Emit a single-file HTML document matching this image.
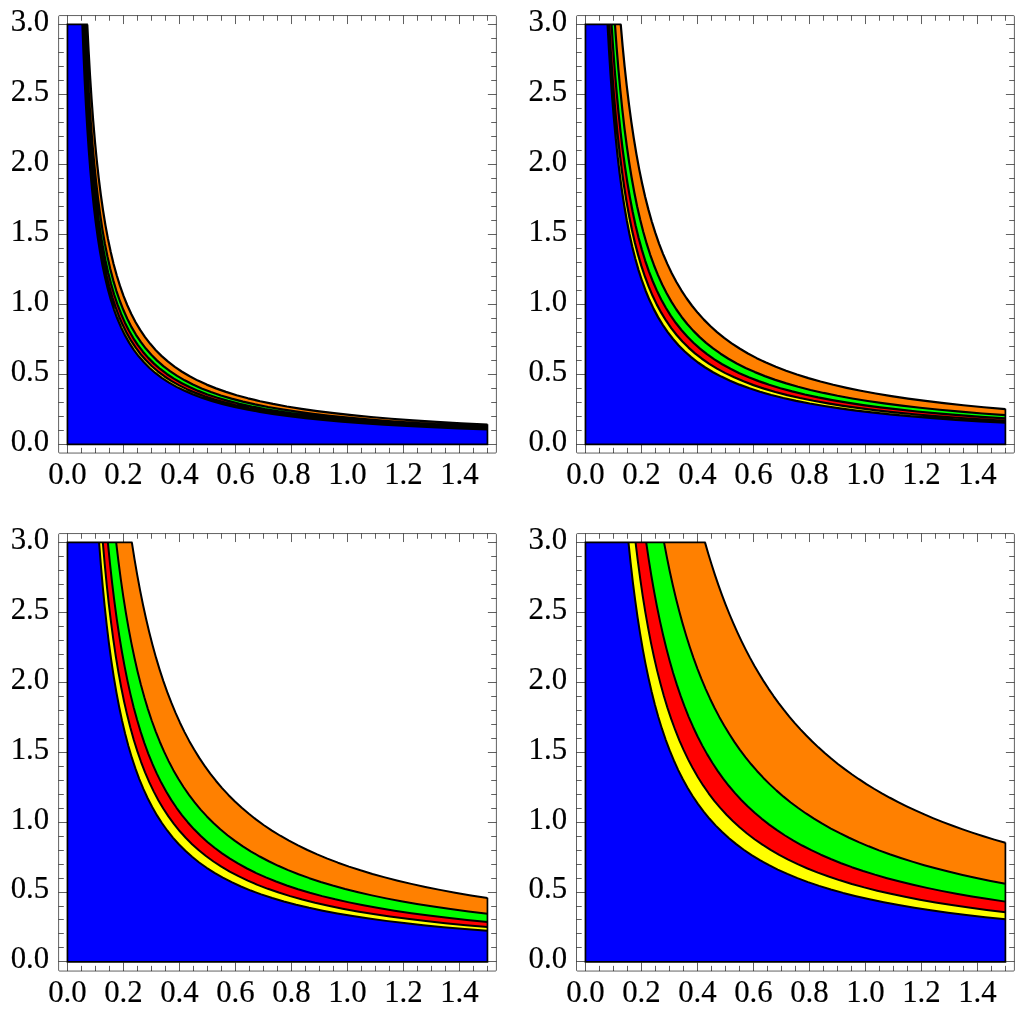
<!DOCTYPE html>
<html><head><meta charset="utf-8"><title>plots</title>
<style>html,body{margin:0;padding:0;background:#fff}svg{display:block}text{font-family:"Liberation Serif",serif;font-size:30.8px;fill:#000;stroke:#000;stroke-width:0.18}</style></head>
<body>
<svg width="1024" height="1013" viewBox="0 0 1024 1013">
<rect width="1024" height="1013" fill="#fff"/>
<g>
<path d="M67.45 444.45 L67.45 24.45 L87.28 24.45 L88.61 50.86 L90.03 75.62 L91.55 98.81 L93.17 120.55 L94.89 140.92 L96.74 160.01 L98.7 177.9 L100.8 194.66 L103.04 210.37 L105.42 225.09 L107.97 238.89 L110.69 251.82 L113.59 263.93 L116.69 275.28 L120 285.92 L123.52 295.89 L127.29 305.24 L131.3 313.99 L135.59 322.2 L140.16 329.88 L145.04 337.09 L150.25 343.84 L155.8 350.17 L161.73 356.1 L168.06 361.65 L174.81 366.86 L182.02 371.74 L189.7 376.31 L197.91 380.6 L206.66 384.61 L216.01 388.38 L225.98 391.9 L236.62 395.21 L247.97 398.31 L260.08 401.21 L273.01 403.93 L286.81 406.48 L301.53 408.86 L317.24 411.1 L334 413.2 L351.89 415.16 L370.98 417.01 L391.35 418.73 L413.09 420.35 L436.28 421.87 L461.04 423.29 L487.45 424.62 L487.45 444.45Z" fill="#ff8000"/>
<path d="M67.45 444.45 L67.45 24.45 L85.35 24.45 L86.59 51.72 L87.92 77.22 L89.35 101.07 L90.87 123.36 L92.49 144.21 L94.23 163.71 L96.09 181.94 L98.08 198.98 L100.21 214.92 L102.48 229.82 L104.91 243.76 L107.52 256.79 L110.3 268.98 L113.27 280.37 L116.45 291.02 L119.86 300.99 L123.5 310.3 L127.39 319.01 L131.55 327.16 L136 334.77 L140.76 341.89 L145.85 348.55 L151.3 354.78 L157.12 360.6 L163.35 366.05 L170.01 371.14 L177.13 375.9 L184.74 380.35 L192.89 384.51 L201.6 388.4 L210.91 392.04 L220.88 395.45 L231.53 398.63 L242.92 401.6 L255.11 404.38 L268.14 406.99 L282.08 409.42 L296.98 411.69 L312.92 413.82 L329.96 415.81 L348.19 417.67 L367.69 419.41 L388.54 421.03 L410.83 422.55 L434.68 423.98 L460.18 425.31 L487.45 426.55 L487.45 444.45Z" fill="#00ff00"/>
<path d="M67.45 444.45 L67.45 24.45 L84.12 24.45 L85.3 52.32 L86.57 78.33 L87.93 102.63 L89.39 125.31 L90.95 146.48 L92.62 166.25 L94.4 184.71 L96.32 201.94 L98.37 218.03 L100.57 233.06 L102.92 247.08 L105.44 260.18 L108.14 272.4 L111.03 283.82 L114.13 294.48 L117.45 304.43 L121 313.72 L124.81 322.39 L128.88 330.49 L133.25 338.05 L137.93 345.11 L142.93 351.7 L148.3 357.86 L154.04 363.6 L160.2 368.97 L166.79 373.97 L173.85 378.65 L181.41 383.02 L189.51 387.09 L198.18 390.9 L207.47 394.45 L217.42 397.77 L228.08 400.87 L239.5 403.76 L251.72 406.46 L264.82 408.98 L278.84 411.33 L293.87 413.53 L309.96 415.58 L327.19 417.5 L345.65 419.28 L365.42 420.95 L386.59 422.51 L409.27 423.97 L433.57 425.33 L459.58 426.6 L487.45 427.78 L487.45 444.45Z" fill="#ff0000"/>
<path d="M67.45 444.45 L67.45 24.45 L83.17 24.45 L84.31 52.81 L85.53 79.25 L86.83 103.91 L88.24 126.9 L89.74 148.34 L91.36 168.33 L93.09 186.97 L94.94 204.36 L96.94 220.57 L99.07 235.68 L101.36 249.78 L103.82 262.92 L106.45 275.18 L109.27 286.61 L112.3 297.26 L115.55 307.2 L119.03 316.47 L122.76 325.11 L126.77 333.17 L131.06 340.68 L135.67 347.69 L140.61 354.22 L145.91 360.31 L151.59 365.99 L157.68 371.29 L164.21 376.23 L171.22 380.84 L178.73 385.13 L186.79 389.14 L195.43 392.87 L204.7 396.35 L214.64 399.6 L225.29 402.63 L236.72 405.45 L248.98 408.08 L262.12 410.54 L276.22 412.83 L291.33 414.96 L307.54 416.96 L324.93 418.81 L343.57 420.54 L363.56 422.16 L385 423.66 L407.99 425.07 L432.65 426.37 L459.09 427.59 L487.45 428.73 L487.45 444.45Z" fill="#ffff00"/>
<path d="M67.45 444.45 L67.45 24.45 L82.4 24.45 L83.5 53.22 L84.68 80.02 L85.95 104.99 L87.31 128.25 L88.77 149.91 L90.34 170.09 L92.02 188.88 L93.83 206.39 L95.77 222.7 L97.85 237.89 L100.09 252.04 L102.49 265.22 L105.07 277.5 L107.83 288.94 L110.8 299.59 L113.99 309.51 L117.41 318.76 L121.09 327.37 L125.03 335.39 L129.27 342.86 L133.81 349.82 L138.69 356.3 L143.93 362.34 L149.56 367.97 L155.6 373.21 L162.08 378.09 L169.04 382.63 L176.51 386.87 L184.53 390.81 L193.14 394.49 L202.39 397.91 L212.31 401.1 L222.96 404.07 L234.4 406.83 L246.68 409.41 L259.86 411.81 L274.01 414.05 L289.2 416.13 L305.51 418.07 L323.02 419.88 L341.81 421.56 L361.99 423.13 L383.65 424.59 L406.91 425.95 L431.88 427.22 L458.68 428.4 L487.45 429.5 L487.45 444.45Z" fill="#0000ff"/>
<path d="M87.28 24.45 L88.61 50.86 L90.03 75.62 L91.55 98.81 L93.17 120.55 L94.89 140.92 L96.74 160.01 L98.7 177.9 L100.8 194.66 L103.04 210.37 L105.42 225.09 L107.97 238.89 L110.69 251.82 L113.59 263.93 L116.69 275.28 L120 285.92 L123.52 295.89 L127.29 305.24 L131.3 313.99 L135.59 322.2 L140.16 329.88 L145.04 337.09 L150.25 343.84 L155.8 350.17 L161.73 356.1 L168.06 361.65 L174.81 366.86 L182.02 371.74 L189.7 376.31 L197.91 380.6 L206.66 384.61 L216.01 388.38 L225.98 391.9 L236.62 395.21 L247.97 398.31 L260.08 401.21 L273.01 403.93 L286.81 406.48 L301.53 408.86 L317.24 411.1 L334 413.2 L351.89 415.16 L370.98 417.01 L391.35 418.73 L413.09 420.35 L436.28 421.87 L461.04 423.29 L487.45 424.62M85.35 24.45 L86.59 51.72 L87.92 77.22 L89.35 101.07 L90.87 123.36 L92.49 144.21 L94.23 163.71 L96.09 181.94 L98.08 198.98 L100.21 214.92 L102.48 229.82 L104.91 243.76 L107.52 256.79 L110.3 268.98 L113.27 280.37 L116.45 291.02 L119.86 300.99 L123.5 310.3 L127.39 319.01 L131.55 327.16 L136 334.77 L140.76 341.89 L145.85 348.55 L151.3 354.78 L157.12 360.6 L163.35 366.05 L170.01 371.14 L177.13 375.9 L184.74 380.35 L192.89 384.51 L201.6 388.4 L210.91 392.04 L220.88 395.45 L231.53 398.63 L242.92 401.6 L255.11 404.38 L268.14 406.99 L282.08 409.42 L296.98 411.69 L312.92 413.82 L329.96 415.81 L348.19 417.67 L367.69 419.41 L388.54 421.03 L410.83 422.55 L434.68 423.98 L460.18 425.31 L487.45 426.55M84.12 24.45 L85.3 52.32 L86.57 78.33 L87.93 102.63 L89.39 125.31 L90.95 146.48 L92.62 166.25 L94.4 184.71 L96.32 201.94 L98.37 218.03 L100.57 233.06 L102.92 247.08 L105.44 260.18 L108.14 272.4 L111.03 283.82 L114.13 294.48 L117.45 304.43 L121 313.72 L124.81 322.39 L128.88 330.49 L133.25 338.05 L137.93 345.11 L142.93 351.7 L148.3 357.86 L154.04 363.6 L160.2 368.97 L166.79 373.97 L173.85 378.65 L181.41 383.02 L189.51 387.09 L198.18 390.9 L207.47 394.45 L217.42 397.77 L228.08 400.87 L239.5 403.76 L251.72 406.46 L264.82 408.98 L278.84 411.33 L293.87 413.53 L309.96 415.58 L327.19 417.5 L345.65 419.28 L365.42 420.95 L386.59 422.51 L409.27 423.97 L433.57 425.33 L459.58 426.6 L487.45 427.78M83.17 24.45 L84.31 52.81 L85.53 79.25 L86.83 103.91 L88.24 126.9 L89.74 148.34 L91.36 168.33 L93.09 186.97 L94.94 204.36 L96.94 220.57 L99.07 235.68 L101.36 249.78 L103.82 262.92 L106.45 275.18 L109.27 286.61 L112.3 297.26 L115.55 307.2 L119.03 316.47 L122.76 325.11 L126.77 333.17 L131.06 340.68 L135.67 347.69 L140.61 354.22 L145.91 360.31 L151.59 365.99 L157.68 371.29 L164.21 376.23 L171.22 380.84 L178.73 385.13 L186.79 389.14 L195.43 392.87 L204.7 396.35 L214.64 399.6 L225.29 402.63 L236.72 405.45 L248.98 408.08 L262.12 410.54 L276.22 412.83 L291.33 414.96 L307.54 416.96 L324.93 418.81 L343.57 420.54 L363.56 422.16 L385 423.66 L407.99 425.07 L432.65 426.37 L459.09 427.59 L487.45 428.73M82.4 24.45 L83.5 53.22 L84.68 80.02 L85.95 104.99 L87.31 128.25 L88.77 149.91 L90.34 170.09 L92.02 188.88 L93.83 206.39 L95.77 222.7 L97.85 237.89 L100.09 252.04 L102.49 265.22 L105.07 277.5 L107.83 288.94 L110.8 299.59 L113.99 309.51 L117.41 318.76 L121.09 327.37 L125.03 335.39 L129.27 342.86 L133.81 349.82 L138.69 356.3 L143.93 362.34 L149.56 367.97 L155.6 373.21 L162.08 378.09 L169.04 382.63 L176.51 386.87 L184.53 390.81 L193.14 394.49 L202.39 397.91 L212.31 401.1 L222.96 404.07 L234.4 406.83 L246.68 409.41 L259.86 411.81 L274.01 414.05 L289.2 416.13 L305.51 418.07 L323.02 419.88 L341.81 421.56 L361.99 423.13 L383.65 424.59 L406.91 425.95 L431.88 427.22 L458.68 428.4 L487.45 429.5" fill="none" stroke="#000" stroke-width="2.2" stroke-linejoin="round"/>
<path d="M87.88 24.45 L67.45 24.45 L67.45 444.45 L487.45 444.45 L487.45 424.32" fill="none" stroke="#000" stroke-width="1.7" stroke-linejoin="miter"/>
<path d="M67.5 453.05v-8.5M67.5 15.55v8.5M81.5 453.05v-5.2M81.5 15.55v5.2M95.5 453.05v-5.2M95.5 15.55v5.2M109.5 453.05v-5.2M109.5 15.55v5.2M123.5 453.05v-8.5M123.5 15.55v8.5M137.5 453.05v-5.2M137.5 15.55v5.2M151.5 453.05v-5.2M151.5 15.55v5.2M165.5 453.05v-5.2M165.5 15.55v5.2M179.5 453.05v-8.5M179.5 15.55v8.5M193.5 453.05v-5.2M193.5 15.55v5.2M207.5 453.05v-5.2M207.5 15.55v5.2M221.5 453.05v-5.2M221.5 15.55v5.2M235.5 453.05v-8.5M235.5 15.55v8.5M249.5 453.05v-5.2M249.5 15.55v5.2M263.5 453.05v-5.2M263.5 15.55v5.2M277.5 453.05v-5.2M277.5 15.55v5.2M291.5 453.05v-8.5M291.5 15.55v8.5M305.5 453.05v-5.2M305.5 15.55v5.2M319.5 453.05v-5.2M319.5 15.55v5.2M333.5 453.05v-5.2M333.5 15.55v5.2M347.5 453.05v-8.5M347.5 15.55v8.5M361.5 453.05v-5.2M361.5 15.55v5.2M375.5 453.05v-5.2M375.5 15.55v5.2M389.5 453.05v-5.2M389.5 15.55v5.2M403.5 453.05v-8.5M403.5 15.55v8.5M417.5 453.05v-5.2M417.5 15.55v5.2M431.5 453.05v-5.2M431.5 15.55v5.2M445.5 453.05v-5.2M445.5 15.55v5.2M459.5 453.05v-8.5M459.5 15.55v8.5M473.5 453.05v-5.2M473.5 15.55v5.2M487.5 453.05v-5.2M487.5 15.55v5.2M58.6 444.5h8.5M496.4 444.5h-8.5M58.6 430.5h5.2M496.4 430.5h-5.2M58.6 416.5h5.2M496.4 416.5h-5.2M58.6 402.5h5.2M496.4 402.5h-5.2M58.6 388.5h5.2M496.4 388.5h-5.2M58.6 374.5h8.5M496.4 374.5h-8.5M58.6 360.5h5.2M496.4 360.5h-5.2M58.6 346.5h5.2M496.4 346.5h-5.2M58.6 332.5h5.2M496.4 332.5h-5.2M58.6 318.5h5.2M496.4 318.5h-5.2M58.6 304.5h8.5M496.4 304.5h-8.5M58.6 290.5h5.2M496.4 290.5h-5.2M58.6 276.5h5.2M496.4 276.5h-5.2M58.6 262.5h5.2M496.4 262.5h-5.2M58.6 248.5h5.2M496.4 248.5h-5.2M58.6 234.5h8.5M496.4 234.5h-8.5M58.6 220.5h5.2M496.4 220.5h-5.2M58.6 206.5h5.2M496.4 206.5h-5.2M58.6 192.5h5.2M496.4 192.5h-5.2M58.6 178.5h5.2M496.4 178.5h-5.2M58.6 164.5h8.5M496.4 164.5h-8.5M58.6 150.5h5.2M496.4 150.5h-5.2M58.6 136.5h5.2M496.4 136.5h-5.2M58.6 122.5h5.2M496.4 122.5h-5.2M58.6 108.5h5.2M496.4 108.5h-5.2M58.6 94.5h8.5M496.4 94.5h-8.5M58.6 80.5h5.2M496.4 80.5h-5.2M58.6 66.5h5.2M496.4 66.5h-5.2M58.6 52.5h5.2M496.4 52.5h-5.2M58.6 38.5h5.2M496.4 38.5h-5.2M58.6 24.5h8.5M496.4 24.5h-8.5" fill="none" stroke="#000" stroke-opacity="0.62" stroke-width="1"/>
<rect x="58.6" y="15.55" width="437.8" height="437.5" rx="1" fill="none" stroke="#000" stroke-opacity="0.62" stroke-width="1"/>
<text transform="translate(67.45 484.15) scale(1 1.03)" text-anchor="middle">0.0</text>
<text transform="translate(123.45 484.15) scale(1 1.03)" text-anchor="middle">0.2</text>
<text transform="translate(179.45 484.15) scale(1 1.03)" text-anchor="middle">0.4</text>
<text transform="translate(235.45 484.15) scale(1 1.03)" text-anchor="middle">0.6</text>
<text transform="translate(291.45 484.15) scale(1 1.03)" text-anchor="middle">0.8</text>
<text transform="translate(347.45 484.15) scale(1 1.03)" text-anchor="middle">1.0</text>
<text transform="translate(403.45 484.15) scale(1 1.03)" text-anchor="middle">1.2</text>
<text transform="translate(459.45 484.15) scale(1 1.03)" text-anchor="middle">1.4</text>
<text transform="translate(49.2 450.85) scale(1 1.03)" text-anchor="end">0.0</text>
<text transform="translate(49.2 380.85) scale(1 1.03)" text-anchor="end">0.5</text>
<text transform="translate(49.2 310.85) scale(1 1.03)" text-anchor="end">1.0</text>
<text transform="translate(49.2 240.85) scale(1 1.03)" text-anchor="end">1.5</text>
<text transform="translate(49.2 170.85) scale(1 1.03)" text-anchor="end">2.0</text>
<text transform="translate(49.2 100.85) scale(1 1.03)" text-anchor="end">2.5</text>
<text transform="translate(49.2 30.85) scale(1 1.03)" text-anchor="end">3.0</text>
</g>
<g>
<path d="M585.45 444.45 L585.45 24.45 L620.73 24.45 L622.63 46.04 L624.64 66.52 L626.75 85.94 L628.98 104.37 L631.33 121.85 L633.81 138.43 L636.42 154.16 L639.18 169.08 L642.08 183.23 L645.14 196.66 L648.37 209.39 L651.77 221.47 L655.36 232.93 L659.14 243.8 L663.12 254.1 L667.32 263.88 L671.75 273.16 L676.42 281.96 L681.35 290.31 L686.54 298.23 L692.01 305.74 L697.78 312.86 L703.86 319.62 L710.27 326.03 L717.02 332.11 L724.15 337.88 L731.66 343.35 L739.57 348.54 L747.92 353.47 L756.72 358.14 L765.99 362.57 L775.77 366.77 L786.08 370.75 L796.95 374.53 L808.41 378.12 L820.48 381.52 L833.22 384.75 L846.64 387.81 L860.79 390.72 L875.71 393.47 L891.43 396.08 L908.01 398.56 L925.49 400.91 L943.91 403.14 L963.34 405.26 L983.81 407.27 L1005.4 409.17 L1005.4 444.45Z" fill="#ff8000"/>
<path d="M585.45 444.45 L585.45 24.45 L614.94 24.45 L616.64 47.64 L618.43 69.55 L620.33 90.25 L622.35 109.8 L624.48 128.27 L626.73 145.73 L629.12 162.22 L631.65 177.8 L634.32 192.52 L637.15 206.42 L640.15 219.56 L643.32 231.97 L646.67 243.69 L650.23 254.77 L653.99 265.24 L657.97 275.13 L662.18 284.47 L666.64 293.29 L671.36 301.63 L676.36 309.51 L681.64 316.95 L687.24 323.98 L693.17 330.62 L699.44 336.9 L706.08 342.83 L713.1 348.43 L720.54 353.72 L728.41 358.72 L736.74 363.44 L745.56 367.91 L754.9 372.12 L764.78 376.11 L775.24 379.87 L786.31 383.42 L798.03 386.78 L810.43 389.96 L823.56 392.95 L837.45 395.79 L852.16 398.46 L867.73 400.99 L884.21 403.38 L901.65 405.64 L920.11 407.77 L939.65 409.78 L960.33 411.68 L982.23 413.48 L1005.4 415.18 L1005.4 444.45Z" fill="#00ff00"/>
<path d="M585.45 444.45 L585.45 24.45 L611.58 24.45 L613.17 48.54 L614.86 71.25 L616.66 92.66 L618.56 112.84 L620.57 131.86 L622.71 149.79 L624.98 166.69 L627.39 182.63 L629.95 197.65 L632.66 211.81 L635.53 225.16 L638.58 237.74 L641.82 249.61 L645.25 260.79 L648.89 271.33 L652.75 281.26 L656.85 290.63 L661.19 299.46 L665.8 307.78 L670.69 315.63 L675.88 323.03 L681.39 330 L687.22 336.57 L693.42 342.77 L699.99 348.61 L706.96 354.12 L714.35 359.31 L722.19 364.2 L730.51 368.81 L739.34 373.16 L748.7 377.26 L758.63 381.12 L769.17 384.76 L780.35 388.2 L792.2 391.43 L804.78 394.48 L818.12 397.36 L832.28 400.07 L847.29 402.63 L863.22 405.04 L880.12 407.31 L898.04 409.45 L917.05 411.47 L937.23 413.37 L958.62 415.16 L981.32 416.85 L1005.4 418.45 L1005.4 444.45Z" fill="#ff0000"/>
<path d="M585.45 444.45 L585.45 24.45 L609.15 24.45 L610.65 49.33 L612.25 72.74 L613.95 94.77 L615.75 115.49 L617.66 134.98 L619.7 153.32 L621.87 170.57 L624.17 186.8 L626.61 202.07 L629.21 216.44 L631.98 229.96 L634.91 242.67 L638.04 254.63 L641.35 265.89 L644.88 276.48 L648.63 286.44 L652.62 295.81 L656.85 304.62 L661.36 312.92 L666.14 320.72 L671.23 328.06 L676.64 334.97 L682.39 341.46 L688.5 347.58 L694.99 353.33 L701.9 358.74 L709.24 363.83 L717.04 368.61 L725.33 373.12 L734.14 377.36 L743.51 381.34 L753.46 385.1 L764.05 388.62 L775.3 391.94 L787.26 395.07 L799.97 398.01 L813.48 400.77 L827.84 403.37 L843.1 405.82 L859.33 408.12 L876.58 410.29 L894.91 412.32 L914.39 414.24 L935.11 416.04 L957.12 417.74 L980.53 419.34 L1005.4 420.84 L1005.4 444.45Z" fill="#ffff00"/>
<path d="M585.45 444.45 L585.45 24.45 L607.57 24.45 L608.99 50.01 L610.51 74.01 L612.12 96.56 L613.84 117.73 L615.68 137.61 L617.63 156.29 L619.7 173.83 L621.91 190.31 L624.27 205.78 L626.77 220.31 L629.44 233.96 L632.28 246.78 L635.31 258.82 L638.53 270.12 L641.96 280.74 L645.61 290.72 L649.49 300.08 L653.63 308.88 L658.04 317.14 L662.73 324.9 L667.73 332.19 L673.05 339.04 L678.71 345.47 L684.75 351.5 L691.17 357.17 L698.01 362.5 L705.29 367.5 L713.04 372.2 L721.29 376.61 L730.08 380.76 L739.43 384.65 L749.4 388.3 L760 391.74 L771.3 394.96 L783.32 397.99 L796.13 400.83 L809.76 403.51 L824.28 406.01 L839.73 408.37 L856.19 410.58 L873.71 412.66 L892.36 414.61 L912.23 416.45 L933.38 418.17 L955.89 419.79 L979.87 421.3 L1005.4 422.73 L1005.4 444.45Z" fill="#0000ff"/>
<path d="M620.73 24.45 L622.63 46.04 L624.64 66.52 L626.75 85.94 L628.98 104.37 L631.33 121.85 L633.81 138.43 L636.42 154.16 L639.18 169.08 L642.08 183.23 L645.14 196.66 L648.37 209.39 L651.77 221.47 L655.36 232.93 L659.14 243.8 L663.12 254.1 L667.32 263.88 L671.75 273.16 L676.42 281.96 L681.35 290.31 L686.54 298.23 L692.01 305.74 L697.78 312.86 L703.86 319.62 L710.27 326.03 L717.02 332.11 L724.15 337.88 L731.66 343.35 L739.57 348.54 L747.92 353.47 L756.72 358.14 L765.99 362.57 L775.77 366.77 L786.08 370.75 L796.95 374.53 L808.41 378.12 L820.48 381.52 L833.22 384.75 L846.64 387.81 L860.79 390.72 L875.71 393.47 L891.43 396.08 L908.01 398.56 L925.49 400.91 L943.91 403.14 L963.34 405.26 L983.81 407.27 L1005.4 409.17M614.94 24.45 L616.64 47.64 L618.43 69.55 L620.33 90.25 L622.35 109.8 L624.48 128.27 L626.73 145.73 L629.12 162.22 L631.65 177.8 L634.32 192.52 L637.15 206.42 L640.15 219.56 L643.32 231.97 L646.67 243.69 L650.23 254.77 L653.99 265.24 L657.97 275.13 L662.18 284.47 L666.64 293.29 L671.36 301.63 L676.36 309.51 L681.64 316.95 L687.24 323.98 L693.17 330.62 L699.44 336.9 L706.08 342.83 L713.1 348.43 L720.54 353.72 L728.41 358.72 L736.74 363.44 L745.56 367.91 L754.9 372.12 L764.78 376.11 L775.24 379.87 L786.31 383.42 L798.03 386.78 L810.43 389.96 L823.56 392.95 L837.45 395.79 L852.16 398.46 L867.73 400.99 L884.21 403.38 L901.65 405.64 L920.11 407.77 L939.65 409.78 L960.33 411.68 L982.23 413.48 L1005.4 415.18M611.58 24.45 L613.17 48.54 L614.86 71.25 L616.66 92.66 L618.56 112.84 L620.57 131.86 L622.71 149.79 L624.98 166.69 L627.39 182.63 L629.95 197.65 L632.66 211.81 L635.53 225.16 L638.58 237.74 L641.82 249.61 L645.25 260.79 L648.89 271.33 L652.75 281.26 L656.85 290.63 L661.19 299.46 L665.8 307.78 L670.69 315.63 L675.88 323.03 L681.39 330 L687.22 336.57 L693.42 342.77 L699.99 348.61 L706.96 354.12 L714.35 359.31 L722.19 364.2 L730.51 368.81 L739.34 373.16 L748.7 377.26 L758.63 381.12 L769.17 384.76 L780.35 388.2 L792.2 391.43 L804.78 394.48 L818.12 397.36 L832.28 400.07 L847.29 402.63 L863.22 405.04 L880.12 407.31 L898.04 409.45 L917.05 411.47 L937.23 413.37 L958.62 415.16 L981.32 416.85 L1005.4 418.45M609.15 24.45 L610.65 49.33 L612.25 72.74 L613.95 94.77 L615.75 115.49 L617.66 134.98 L619.7 153.32 L621.87 170.57 L624.17 186.8 L626.61 202.07 L629.21 216.44 L631.98 229.96 L634.91 242.67 L638.04 254.63 L641.35 265.89 L644.88 276.48 L648.63 286.44 L652.62 295.81 L656.85 304.62 L661.36 312.92 L666.14 320.72 L671.23 328.06 L676.64 334.97 L682.39 341.46 L688.5 347.58 L694.99 353.33 L701.9 358.74 L709.24 363.83 L717.04 368.61 L725.33 373.12 L734.14 377.36 L743.51 381.34 L753.46 385.1 L764.05 388.62 L775.3 391.94 L787.26 395.07 L799.97 398.01 L813.48 400.77 L827.84 403.37 L843.1 405.82 L859.33 408.12 L876.58 410.29 L894.91 412.32 L914.39 414.24 L935.11 416.04 L957.12 417.74 L980.53 419.34 L1005.4 420.84M607.57 24.45 L608.99 50.01 L610.51 74.01 L612.12 96.56 L613.84 117.73 L615.68 137.61 L617.63 156.29 L619.7 173.83 L621.91 190.31 L624.27 205.78 L626.77 220.31 L629.44 233.96 L632.28 246.78 L635.31 258.82 L638.53 270.12 L641.96 280.74 L645.61 290.72 L649.49 300.08 L653.63 308.88 L658.04 317.14 L662.73 324.9 L667.73 332.19 L673.05 339.04 L678.71 345.47 L684.75 351.5 L691.17 357.17 L698.01 362.5 L705.29 367.5 L713.04 372.2 L721.29 376.61 L730.08 380.76 L739.43 384.65 L749.4 388.3 L760 391.74 L771.3 394.96 L783.32 397.99 L796.13 400.83 L809.76 403.51 L824.28 406.01 L839.73 408.37 L856.19 410.58 L873.71 412.66 L892.36 414.61 L912.23 416.45 L933.38 418.17 L955.89 419.79 L979.87 421.3 L1005.4 422.73" fill="none" stroke="#000" stroke-width="2.2" stroke-linejoin="round"/>
<path d="M621.33 24.45 L585.45 24.45 L585.45 444.45 L1005.4 444.45 L1005.4 408.87" fill="none" stroke="#000" stroke-width="1.7" stroke-linejoin="miter"/>
<path d="M585.5 453.05v-8.5M585.5 15.55v8.5M599.5 453.05v-5.2M599.5 15.55v5.2M613.5 453.05v-5.2M613.5 15.55v5.2M627.5 453.05v-5.2M627.5 15.55v5.2M641.5 453.05v-8.5M641.5 15.55v8.5M655.5 453.05v-5.2M655.5 15.55v5.2M669.5 453.05v-5.2M669.5 15.55v5.2M683.5 453.05v-5.2M683.5 15.55v5.2M697.5 453.05v-8.5M697.5 15.55v8.5M711.5 453.05v-5.2M711.5 15.55v5.2M725.5 453.05v-5.2M725.5 15.55v5.2M739.5 453.05v-5.2M739.5 15.55v5.2M753.5 453.05v-8.5M753.5 15.55v8.5M767.5 453.05v-5.2M767.5 15.55v5.2M781.5 453.05v-5.2M781.5 15.55v5.2M795.5 453.05v-5.2M795.5 15.55v5.2M809.5 453.05v-8.5M809.5 15.55v8.5M823.5 453.05v-5.2M823.5 15.55v5.2M837.5 453.05v-5.2M837.5 15.55v5.2M851.5 453.05v-5.2M851.5 15.55v5.2M865.5 453.05v-8.5M865.5 15.55v8.5M879.5 453.05v-5.2M879.5 15.55v5.2M893.5 453.05v-5.2M893.5 15.55v5.2M907.5 453.05v-5.2M907.5 15.55v5.2M921.5 453.05v-8.5M921.5 15.55v8.5M935.5 453.05v-5.2M935.5 15.55v5.2M949.5 453.05v-5.2M949.5 15.55v5.2M963.5 453.05v-5.2M963.5 15.55v5.2M977.5 453.05v-8.5M977.5 15.55v8.5M991.5 453.05v-5.2M991.5 15.55v5.2M1005.5 453.05v-5.2M1005.5 15.55v5.2M576.5 444.5h8.5M1014.4 444.5h-8.5M576.5 430.5h5.2M1014.4 430.5h-5.2M576.5 416.5h5.2M1014.4 416.5h-5.2M576.5 402.5h5.2M1014.4 402.5h-5.2M576.5 388.5h5.2M1014.4 388.5h-5.2M576.5 374.5h8.5M1014.4 374.5h-8.5M576.5 360.5h5.2M1014.4 360.5h-5.2M576.5 346.5h5.2M1014.4 346.5h-5.2M576.5 332.5h5.2M1014.4 332.5h-5.2M576.5 318.5h5.2M1014.4 318.5h-5.2M576.5 304.5h8.5M1014.4 304.5h-8.5M576.5 290.5h5.2M1014.4 290.5h-5.2M576.5 276.5h5.2M1014.4 276.5h-5.2M576.5 262.5h5.2M1014.4 262.5h-5.2M576.5 248.5h5.2M1014.4 248.5h-5.2M576.5 234.5h8.5M1014.4 234.5h-8.5M576.5 220.5h5.2M1014.4 220.5h-5.2M576.5 206.5h5.2M1014.4 206.5h-5.2M576.5 192.5h5.2M1014.4 192.5h-5.2M576.5 178.5h5.2M1014.4 178.5h-5.2M576.5 164.5h8.5M1014.4 164.5h-8.5M576.5 150.5h5.2M1014.4 150.5h-5.2M576.5 136.5h5.2M1014.4 136.5h-5.2M576.5 122.5h5.2M1014.4 122.5h-5.2M576.5 108.5h5.2M1014.4 108.5h-5.2M576.5 94.5h8.5M1014.4 94.5h-8.5M576.5 80.5h5.2M1014.4 80.5h-5.2M576.5 66.5h5.2M1014.4 66.5h-5.2M576.5 52.5h5.2M1014.4 52.5h-5.2M576.5 38.5h5.2M1014.4 38.5h-5.2M576.5 24.5h8.5M1014.4 24.5h-8.5" fill="none" stroke="#000" stroke-opacity="0.62" stroke-width="1"/>
<rect x="576.5" y="15.55" width="437.9" height="437.5" rx="1" fill="none" stroke="#000" stroke-opacity="0.62" stroke-width="1"/>
<text transform="translate(585.45 484.15) scale(1 1.03)" text-anchor="middle">0.0</text>
<text transform="translate(641.44 484.15) scale(1 1.03)" text-anchor="middle">0.2</text>
<text transform="translate(697.44 484.15) scale(1 1.03)" text-anchor="middle">0.4</text>
<text transform="translate(753.43 484.15) scale(1 1.03)" text-anchor="middle">0.6</text>
<text transform="translate(809.42 484.15) scale(1 1.03)" text-anchor="middle">0.8</text>
<text transform="translate(865.42 484.15) scale(1 1.03)" text-anchor="middle">1.0</text>
<text transform="translate(921.41 484.15) scale(1 1.03)" text-anchor="middle">1.2</text>
<text transform="translate(977.4 484.15) scale(1 1.03)" text-anchor="middle">1.4</text>
<text transform="translate(567.1 450.85) scale(1 1.03)" text-anchor="end">0.0</text>
<text transform="translate(567.1 380.85) scale(1 1.03)" text-anchor="end">0.5</text>
<text transform="translate(567.1 310.85) scale(1 1.03)" text-anchor="end">1.0</text>
<text transform="translate(567.1 240.85) scale(1 1.03)" text-anchor="end">1.5</text>
<text transform="translate(567.1 170.85) scale(1 1.03)" text-anchor="end">2.0</text>
<text transform="translate(567.1 100.85) scale(1 1.03)" text-anchor="end">2.5</text>
<text transform="translate(567.1 30.85) scale(1 1.03)" text-anchor="end">3.0</text>
</g>
<g>
<path d="M67.45 961.95 L67.45 542.4 L131.85 542.4 L134.46 558.87 L137.17 574.69 L140 589.89 L142.94 604.5 L146.01 618.53 L149.19 632.01 L152.51 644.96 L155.96 657.41 L159.56 669.36 L163.3 680.85 L167.19 691.88 L171.25 702.48 L175.47 712.67 L179.86 722.45 L184.43 731.85 L189.19 740.88 L194.14 749.56 L199.29 757.9 L204.66 765.9 L210.24 773.6 L216.05 780.99 L222.1 788.09 L228.4 794.92 L234.96 801.47 L241.78 807.77 L248.88 813.82 L256.27 819.63 L263.97 825.22 L271.97 830.58 L280.31 835.74 L288.99 840.69 L298.02 845.45 L307.42 850.02 L317.2 854.41 L327.38 858.63 L337.98 862.69 L349.02 866.58 L360.5 870.32 L372.45 873.92 L384.9 877.37 L397.85 880.69 L411.33 883.88 L425.36 886.94 L439.96 889.88 L455.16 892.71 L470.98 895.42 L487.45 898.03 L487.45 961.95Z" fill="#ff8000"/>
<path d="M67.45 961.95 L67.45 542.4 L116.17 542.4 L118.44 561.28 L120.82 579.31 L123.3 596.53 L125.91 612.97 L128.64 628.67 L131.5 643.67 L134.49 657.99 L137.62 671.67 L140.9 684.73 L144.34 697.2 L147.93 709.12 L151.7 720.49 L155.65 731.36 L159.78 741.73 L164.1 751.64 L168.63 761.1 L173.37 770.14 L178.34 778.77 L183.54 787.01 L188.98 794.88 L194.68 802.4 L200.65 809.57 L206.9 816.43 L213.45 822.97 L220.3 829.23 L227.48 835.2 L234.99 840.9 L242.86 846.34 L251.1 851.54 L259.73 856.51 L268.77 861.25 L278.23 865.78 L288.14 870.11 L298.51 874.24 L309.37 878.18 L320.75 881.95 L332.66 885.54 L345.13 888.98 L358.19 892.26 L371.87 895.39 L386.19 898.39 L401.18 901.24 L416.89 903.97 L433.33 906.58 L450.54 909.07 L468.57 911.45 L487.45 913.72 L487.45 961.95Z" fill="#00ff00"/>
<path d="M67.45 961.95 L67.45 542.4 L107.86 542.4 L109.91 562.89 L112.06 582.38 L114.32 600.92 L116.7 618.55 L119.2 635.32 L121.83 651.27 L124.6 666.44 L127.5 680.87 L130.56 694.6 L133.77 707.65 L137.15 720.07 L140.7 731.88 L144.43 743.12 L148.35 753.8 L152.48 763.97 L156.82 773.63 L161.38 782.83 L166.17 791.57 L171.21 799.89 L176.51 807.81 L182.09 815.33 L187.94 822.49 L194.1 829.3 L200.58 835.77 L207.39 841.93 L214.54 847.79 L222.07 853.37 L229.98 858.67 L238.3 863.71 L247.04 868.5 L256.24 873.06 L265.9 877.4 L276.07 881.53 L286.75 885.45 L297.99 889.19 L309.8 892.74 L322.21 896.11 L335.27 899.33 L348.99 902.38 L363.42 905.29 L378.59 908.05 L394.54 910.68 L411.31 913.18 L428.94 915.56 L447.48 917.82 L466.96 919.98 L487.45 922.02 L487.45 961.95Z" fill="#ff0000"/>
<path d="M67.45 961.95 L67.45 542.4 L102.82 542.4 L104.72 564.04 L106.71 584.56 L108.82 604.02 L111.04 622.48 L113.38 639.98 L115.84 656.58 L118.45 672.33 L121.19 687.27 L124.08 701.43 L127.13 714.86 L130.34 727.6 L133.73 739.69 L137.31 751.15 L141.08 762.02 L145.05 772.32 L149.24 782.1 L153.66 791.37 L158.32 800.17 L163.23 808.51 L168.41 816.42 L173.87 823.92 L179.62 831.04 L185.69 837.79 L192.09 844.19 L198.84 850.26 L205.95 856.01 L213.46 861.48 L221.37 866.65 L229.71 871.57 L238.5 876.22 L247.77 880.64 L257.55 884.83 L267.85 888.81 L278.72 892.57 L290.18 896.15 L302.26 899.54 L315 902.76 L328.44 905.8 L342.6 908.7 L357.53 911.44 L373.28 914.04 L389.88 916.51 L407.38 918.85 L425.84 921.07 L445.3 923.17 L465.82 925.17 L487.45 927.06 L487.45 961.95Z" fill="#ffff00"/>
<path d="M67.45 961.95 L67.45 542.4 L99.09 542.4 L100.86 565 L102.73 586.37 L104.71 606.6 L106.8 625.74 L109 643.84 L111.34 660.97 L113.8 677.18 L116.41 692.52 L119.17 707.03 L122.08 720.75 L125.16 733.74 L128.41 746.03 L131.85 757.66 L135.48 768.66 L139.32 779.06 L143.38 788.91 L147.68 798.23 L152.21 807.04 L157.01 815.38 L162.07 823.27 L167.43 830.74 L173.09 837.8 L179.07 844.49 L185.39 850.81 L192.07 856.79 L199.14 862.45 L206.6 867.81 L214.49 872.88 L222.83 877.67 L231.65 882.21 L240.96 886.5 L250.81 890.56 L261.21 894.4 L272.21 898.03 L283.84 901.47 L296.13 904.73 L309.11 907.81 L322.84 910.72 L337.35 913.47 L352.68 916.08 L368.89 918.55 L386.02 920.88 L404.12 923.09 L423.26 925.18 L443.48 927.16 L464.86 929.03 L487.45 930.8 L487.45 961.95Z" fill="#0000ff"/>
<path d="M131.85 542.4 L134.46 558.87 L137.17 574.69 L140 589.89 L142.94 604.5 L146.01 618.53 L149.19 632.01 L152.51 644.96 L155.96 657.41 L159.56 669.36 L163.3 680.85 L167.19 691.88 L171.25 702.48 L175.47 712.67 L179.86 722.45 L184.43 731.85 L189.19 740.88 L194.14 749.56 L199.29 757.9 L204.66 765.9 L210.24 773.6 L216.05 780.99 L222.1 788.09 L228.4 794.92 L234.96 801.47 L241.78 807.77 L248.88 813.82 L256.27 819.63 L263.97 825.22 L271.97 830.58 L280.31 835.74 L288.99 840.69 L298.02 845.45 L307.42 850.02 L317.2 854.41 L327.38 858.63 L337.98 862.69 L349.02 866.58 L360.5 870.32 L372.45 873.92 L384.9 877.37 L397.85 880.69 L411.33 883.88 L425.36 886.94 L439.96 889.88 L455.16 892.71 L470.98 895.42 L487.45 898.03M116.17 542.4 L118.44 561.28 L120.82 579.31 L123.3 596.53 L125.91 612.97 L128.64 628.67 L131.5 643.67 L134.49 657.99 L137.62 671.67 L140.9 684.73 L144.34 697.2 L147.93 709.12 L151.7 720.49 L155.65 731.36 L159.78 741.73 L164.1 751.64 L168.63 761.1 L173.37 770.14 L178.34 778.77 L183.54 787.01 L188.98 794.88 L194.68 802.4 L200.65 809.57 L206.9 816.43 L213.45 822.97 L220.3 829.23 L227.48 835.2 L234.99 840.9 L242.86 846.34 L251.1 851.54 L259.73 856.51 L268.77 861.25 L278.23 865.78 L288.14 870.11 L298.51 874.24 L309.37 878.18 L320.75 881.95 L332.66 885.54 L345.13 888.98 L358.19 892.26 L371.87 895.39 L386.19 898.39 L401.18 901.24 L416.89 903.97 L433.33 906.58 L450.54 909.07 L468.57 911.45 L487.45 913.72M107.86 542.4 L109.91 562.89 L112.06 582.38 L114.32 600.92 L116.7 618.55 L119.2 635.32 L121.83 651.27 L124.6 666.44 L127.5 680.87 L130.56 694.6 L133.77 707.65 L137.15 720.07 L140.7 731.88 L144.43 743.12 L148.35 753.8 L152.48 763.97 L156.82 773.63 L161.38 782.83 L166.17 791.57 L171.21 799.89 L176.51 807.81 L182.09 815.33 L187.94 822.49 L194.1 829.3 L200.58 835.77 L207.39 841.93 L214.54 847.79 L222.07 853.37 L229.98 858.67 L238.3 863.71 L247.04 868.5 L256.24 873.06 L265.9 877.4 L276.07 881.53 L286.75 885.45 L297.99 889.19 L309.8 892.74 L322.21 896.11 L335.27 899.33 L348.99 902.38 L363.42 905.29 L378.59 908.05 L394.54 910.68 L411.31 913.18 L428.94 915.56 L447.48 917.82 L466.96 919.98 L487.45 922.02M102.82 542.4 L104.72 564.04 L106.71 584.56 L108.82 604.02 L111.04 622.48 L113.38 639.98 L115.84 656.58 L118.45 672.33 L121.19 687.27 L124.08 701.43 L127.13 714.86 L130.34 727.6 L133.73 739.69 L137.31 751.15 L141.08 762.02 L145.05 772.32 L149.24 782.1 L153.66 791.37 L158.32 800.17 L163.23 808.51 L168.41 816.42 L173.87 823.92 L179.62 831.04 L185.69 837.79 L192.09 844.19 L198.84 850.26 L205.95 856.01 L213.46 861.48 L221.37 866.65 L229.71 871.57 L238.5 876.22 L247.77 880.64 L257.55 884.83 L267.85 888.81 L278.72 892.57 L290.18 896.15 L302.26 899.54 L315 902.76 L328.44 905.8 L342.6 908.7 L357.53 911.44 L373.28 914.04 L389.88 916.51 L407.38 918.85 L425.84 921.07 L445.3 923.17 L465.82 925.17 L487.45 927.06M99.09 542.4 L100.86 565 L102.73 586.37 L104.71 606.6 L106.8 625.74 L109 643.84 L111.34 660.97 L113.8 677.18 L116.41 692.52 L119.17 707.03 L122.08 720.75 L125.16 733.74 L128.41 746.03 L131.85 757.66 L135.48 768.66 L139.32 779.06 L143.38 788.91 L147.68 798.23 L152.21 807.04 L157.01 815.38 L162.07 823.27 L167.43 830.74 L173.09 837.8 L179.07 844.49 L185.39 850.81 L192.07 856.79 L199.14 862.45 L206.6 867.81 L214.49 872.88 L222.83 877.67 L231.65 882.21 L240.96 886.5 L250.81 890.56 L261.21 894.4 L272.21 898.03 L283.84 901.47 L296.13 904.73 L309.11 907.81 L322.84 910.72 L337.35 913.47 L352.68 916.08 L368.89 918.55 L386.02 920.88 L404.12 923.09 L423.26 925.18 L443.48 927.16 L464.86 929.03 L487.45 930.8" fill="none" stroke="#000" stroke-width="2" stroke-linejoin="round"/>
<path d="M132.45 542.4 L67.45 542.4 L67.45 961.95 L487.45 961.95 L487.45 897.73" fill="none" stroke="#000" stroke-width="1.7" stroke-linejoin="miter"/>
<path d="M67.5 971.05v-8.5M67.5 533.55v8.5M81.5 971.05v-5.2M81.5 533.55v5.2M95.5 971.05v-5.2M95.5 533.55v5.2M109.5 971.05v-5.2M109.5 533.55v5.2M123.5 971.05v-8.5M123.5 533.55v8.5M137.5 971.05v-5.2M137.5 533.55v5.2M151.5 971.05v-5.2M151.5 533.55v5.2M165.5 971.05v-5.2M165.5 533.55v5.2M179.5 971.05v-8.5M179.5 533.55v8.5M193.5 971.05v-5.2M193.5 533.55v5.2M207.5 971.05v-5.2M207.5 533.55v5.2M221.5 971.05v-5.2M221.5 533.55v5.2M235.5 971.05v-8.5M235.5 533.55v8.5M249.5 971.05v-5.2M249.5 533.55v5.2M263.5 971.05v-5.2M263.5 533.55v5.2M277.5 971.05v-5.2M277.5 533.55v5.2M291.5 971.05v-8.5M291.5 533.55v8.5M305.5 971.05v-5.2M305.5 533.55v5.2M319.5 971.05v-5.2M319.5 533.55v5.2M333.5 971.05v-5.2M333.5 533.55v5.2M347.5 971.05v-8.5M347.5 533.55v8.5M361.5 971.05v-5.2M361.5 533.55v5.2M375.5 971.05v-5.2M375.5 533.55v5.2M389.5 971.05v-5.2M389.5 533.55v5.2M403.5 971.05v-8.5M403.5 533.55v8.5M417.5 971.05v-5.2M417.5 533.55v5.2M431.5 971.05v-5.2M431.5 533.55v5.2M445.5 971.05v-5.2M445.5 533.55v5.2M459.5 971.05v-8.5M459.5 533.55v8.5M473.5 971.05v-5.2M473.5 533.55v5.2M487.5 971.05v-5.2M487.5 533.55v5.2M58.6 961.5h8.5M496.4 961.5h-8.5M58.6 947.5h5.2M496.4 947.5h-5.2M58.6 933.5h5.2M496.4 933.5h-5.2M58.6 919.5h5.2M496.4 919.5h-5.2M58.6 906.5h5.2M496.4 906.5h-5.2M58.6 892.5h8.5M496.4 892.5h-8.5M58.6 878.5h5.2M496.4 878.5h-5.2M58.6 864.5h5.2M496.4 864.5h-5.2M58.6 850.5h5.2M496.4 850.5h-5.2M58.6 836.5h5.2M496.4 836.5h-5.2M58.6 822.5h8.5M496.4 822.5h-8.5M58.6 808.5h5.2M496.4 808.5h-5.2M58.6 794.5h5.2M496.4 794.5h-5.2M58.6 780.5h5.2M496.4 780.5h-5.2M58.6 766.5h5.2M496.4 766.5h-5.2M58.6 752.5h8.5M496.4 752.5h-8.5M58.6 738.5h5.2M496.4 738.5h-5.2M58.6 724.5h5.2M496.4 724.5h-5.2M58.6 710.5h5.2M496.4 710.5h-5.2M58.6 696.5h5.2M496.4 696.5h-5.2M58.6 682.5h8.5M496.4 682.5h-8.5M58.6 668.5h5.2M496.4 668.5h-5.2M58.6 654.5h5.2M496.4 654.5h-5.2M58.6 640.5h5.2M496.4 640.5h-5.2M58.6 626.5h5.2M496.4 626.5h-5.2M58.6 612.5h8.5M496.4 612.5h-8.5M58.6 598.5h5.2M496.4 598.5h-5.2M58.6 584.5h5.2M496.4 584.5h-5.2M58.6 570.5h5.2M496.4 570.5h-5.2M58.6 556.5h5.2M496.4 556.5h-5.2M58.6 542.5h8.5M496.4 542.5h-8.5" fill="none" stroke="#000" stroke-opacity="0.62" stroke-width="1"/>
<rect x="58.6" y="533.55" width="437.8" height="437.5" rx="1" fill="none" stroke="#000" stroke-opacity="0.62" stroke-width="1"/>
<text transform="translate(67.45 1001.9) scale(1 1.03)" text-anchor="middle">0.0</text>
<text transform="translate(123.45 1001.9) scale(1 1.03)" text-anchor="middle">0.2</text>
<text transform="translate(179.45 1001.9) scale(1 1.03)" text-anchor="middle">0.4</text>
<text transform="translate(235.45 1001.9) scale(1 1.03)" text-anchor="middle">0.6</text>
<text transform="translate(291.45 1001.9) scale(1 1.03)" text-anchor="middle">0.8</text>
<text transform="translate(347.45 1001.9) scale(1 1.03)" text-anchor="middle">1.0</text>
<text transform="translate(403.45 1001.9) scale(1 1.03)" text-anchor="middle">1.2</text>
<text transform="translate(459.45 1001.9) scale(1 1.03)" text-anchor="middle">1.4</text>
<text transform="translate(49.2 968.35) scale(1 1.03)" text-anchor="end">0.0</text>
<text transform="translate(49.2 898.43) scale(1 1.03)" text-anchor="end">0.5</text>
<text transform="translate(49.2 828.5) scale(1 1.03)" text-anchor="end">1.0</text>
<text transform="translate(49.2 758.57) scale(1 1.03)" text-anchor="end">1.5</text>
<text transform="translate(49.2 688.65) scale(1 1.03)" text-anchor="end">2.0</text>
<text transform="translate(49.2 618.73) scale(1 1.03)" text-anchor="end">2.5</text>
<text transform="translate(49.2 548.8) scale(1 1.03)" text-anchor="end">3.0</text>
</g>
<g>
<path d="M585.45 961.95 L585.45 542.4 L705 542.4 L708.22 553.51 L711.53 564.33 L714.93 574.86 L718.43 585.11 L722.02 595.08 L725.71 604.8 L729.5 614.25 L733.39 623.46 L737.39 632.41 L741.5 641.14 L745.72 649.63 L750.05 657.89 L754.5 665.94 L759.08 673.77 L763.77 681.4 L768.6 688.82 L773.56 696.04 L778.65 703.08 L783.89 709.93 L789.26 716.59 L794.78 723.08 L800.45 729.4 L806.28 735.54 L812.27 741.53 L818.41 747.36 L824.73 753.03 L831.22 758.55 L837.88 763.93 L844.73 769.16 L851.76 774.25 L858.99 779.21 L866.41 784.04 L874.03 788.74 L881.87 793.31 L889.91 797.76 L898.18 802.1 L906.67 806.32 L915.39 810.42 L924.35 814.42 L933.55 818.32 L943.01 822.1 L952.72 825.79 L962.7 829.38 L972.95 832.88 L983.47 836.28 L994.29 839.59 L1005.4 842.82 L1005.4 961.95Z" fill="#ff8000"/>
<path d="M585.45 961.95 L585.45 542.4 L664.03 542.4 L666.86 557.18 L669.79 571.44 L672.83 585.2 L675.98 598.47 L679.25 611.27 L682.63 623.62 L686.14 635.53 L689.78 647.03 L693.56 658.12 L697.47 668.81 L701.52 679.13 L705.72 689.09 L710.07 698.69 L714.59 707.95 L719.27 716.89 L724.12 725.51 L729.15 733.83 L734.36 741.85 L739.76 749.59 L745.37 757.06 L751.17 764.26 L757.19 771.21 L763.43 777.92 L769.89 784.38 L776.6 790.62 L783.55 796.64 L790.75 802.45 L798.22 808.05 L805.96 813.45 L813.98 818.67 L822.3 823.69 L830.92 828.55 L839.85 833.22 L849.12 837.74 L858.72 842.09 L868.68 846.3 L878.99 850.35 L889.69 854.26 L900.78 858.03 L912.27 861.67 L924.18 865.18 L936.53 868.57 L949.33 871.83 L962.6 874.99 L976.36 878.03 L990.62 880.96 L1005.4 883.79 L1005.4 961.95Z" fill="#00ff00"/>
<path d="M585.45 961.95 L585.45 542.4 L646.2 542.4 L648.72 559.43 L651.35 575.76 L654.09 591.43 L656.95 606.47 L659.93 620.89 L663.03 634.72 L666.27 648 L669.64 660.73 L673.15 672.95 L676.82 684.66 L680.64 695.91 L684.62 706.69 L688.77 717.04 L693.1 726.96 L697.61 736.49 L702.31 745.62 L707.21 754.38 L712.32 762.79 L717.64 770.86 L723.19 778.59 L728.98 786.01 L735.01 793.14 L741.29 799.97 L747.85 806.52 L754.68 812.81 L761.8 818.84 L769.22 824.62 L776.96 830.17 L785.02 835.5 L793.43 840.61 L802.19 845.51 L811.32 850.21 L820.85 854.72 L830.77 859.04 L841.12 863.2 L851.9 867.18 L863.14 871 L874.86 874.66 L887.08 878.18 L899.81 881.55 L913.08 884.79 L926.92 887.89 L941.34 890.87 L956.37 893.72 L972.04 896.46 L988.37 899.09 L1005.4 901.62 L1005.4 961.95Z" fill="#ff0000"/>
<path d="M585.45 961.95 L585.45 542.4 L635.56 542.4 L637.85 561.11 L640.24 578.98 L642.74 596.05 L645.36 612.36 L648.11 627.95 L650.98 642.83 L653.99 657.05 L657.13 670.64 L660.43 683.62 L663.87 696.01 L667.48 707.86 L671.26 719.17 L675.21 729.98 L679.35 740.31 L683.69 750.17 L688.22 759.6 L692.97 768.6 L697.94 777.2 L703.14 785.42 L708.59 793.27 L714.29 800.77 L720.25 807.93 L726.5 814.78 L733.04 821.32 L739.88 827.56 L747.04 833.53 L754.54 839.23 L762.39 844.67 L770.61 849.88 L779.21 854.85 L788.21 859.59 L797.64 864.13 L807.5 868.46 L817.83 872.6 L828.64 876.56 L839.95 880.33 L851.79 883.94 L864.19 887.39 L877.17 890.69 L890.75 893.83 L904.97 896.84 L919.86 899.71 L935.44 902.45 L951.75 905.07 L968.82 907.58 L986.69 909.97 L1005.4 912.25 L1005.4 961.95Z" fill="#ffff00"/>
<path d="M585.45 961.95 L585.45 542.4 L628.47 542.4 L630.57 562.44 L632.78 581.52 L635.09 599.69 L637.52 616.99 L640.08 633.46 L642.76 649.14 L645.58 664.07 L648.54 678.29 L651.65 691.83 L654.91 704.71 L658.34 716.99 L661.94 728.67 L665.72 739.8 L669.69 750.39 L673.86 760.47 L678.24 770.08 L682.85 779.22 L687.68 787.93 L692.75 796.22 L698.08 804.11 L703.68 811.62 L709.56 818.78 L715.74 825.59 L722.22 832.08 L729.04 838.25 L736.19 844.13 L743.71 849.73 L751.6 855.06 L759.89 860.14 L768.59 864.97 L777.73 869.57 L787.34 873.95 L797.42 878.13 L808.01 882.1 L819.14 885.88 L830.82 889.48 L843.09 892.91 L855.98 896.17 L869.52 899.28 L883.73 902.24 L898.66 905.06 L914.35 907.74 L930.82 910.29 L948.11 912.73 L966.28 915.04 L985.36 917.25 L1005.4 919.35 L1005.4 961.95Z" fill="#0000ff"/>
<path d="M705 542.4 L708.22 553.51 L711.53 564.33 L714.93 574.86 L718.43 585.11 L722.02 595.08 L725.71 604.8 L729.5 614.25 L733.39 623.46 L737.39 632.41 L741.5 641.14 L745.72 649.63 L750.05 657.89 L754.5 665.94 L759.08 673.77 L763.77 681.4 L768.6 688.82 L773.56 696.04 L778.65 703.08 L783.89 709.93 L789.26 716.59 L794.78 723.08 L800.45 729.4 L806.28 735.54 L812.27 741.53 L818.41 747.36 L824.73 753.03 L831.22 758.55 L837.88 763.93 L844.73 769.16 L851.76 774.25 L858.99 779.21 L866.41 784.04 L874.03 788.74 L881.87 793.31 L889.91 797.76 L898.18 802.1 L906.67 806.32 L915.39 810.42 L924.35 814.42 L933.55 818.32 L943.01 822.1 L952.72 825.79 L962.7 829.38 L972.95 832.88 L983.47 836.28 L994.29 839.59 L1005.4 842.82M664.03 542.4 L666.86 557.18 L669.79 571.44 L672.83 585.2 L675.98 598.47 L679.25 611.27 L682.63 623.62 L686.14 635.53 L689.78 647.03 L693.56 658.12 L697.47 668.81 L701.52 679.13 L705.72 689.09 L710.07 698.69 L714.59 707.95 L719.27 716.89 L724.12 725.51 L729.15 733.83 L734.36 741.85 L739.76 749.59 L745.37 757.06 L751.17 764.26 L757.19 771.21 L763.43 777.92 L769.89 784.38 L776.6 790.62 L783.55 796.64 L790.75 802.45 L798.22 808.05 L805.96 813.45 L813.98 818.67 L822.3 823.69 L830.92 828.55 L839.85 833.22 L849.12 837.74 L858.72 842.09 L868.68 846.3 L878.99 850.35 L889.69 854.26 L900.78 858.03 L912.27 861.67 L924.18 865.18 L936.53 868.57 L949.33 871.83 L962.6 874.99 L976.36 878.03 L990.62 880.96 L1005.4 883.79M646.2 542.4 L648.72 559.43 L651.35 575.76 L654.09 591.43 L656.95 606.47 L659.93 620.89 L663.03 634.72 L666.27 648 L669.64 660.73 L673.15 672.95 L676.82 684.66 L680.64 695.91 L684.62 706.69 L688.77 717.04 L693.1 726.96 L697.61 736.49 L702.31 745.62 L707.21 754.38 L712.32 762.79 L717.64 770.86 L723.19 778.59 L728.98 786.01 L735.01 793.14 L741.29 799.97 L747.85 806.52 L754.68 812.81 L761.8 818.84 L769.22 824.62 L776.96 830.17 L785.02 835.5 L793.43 840.61 L802.19 845.51 L811.32 850.21 L820.85 854.72 L830.77 859.04 L841.12 863.2 L851.9 867.18 L863.14 871 L874.86 874.66 L887.08 878.18 L899.81 881.55 L913.08 884.79 L926.92 887.89 L941.34 890.87 L956.37 893.72 L972.04 896.46 L988.37 899.09 L1005.4 901.62M635.56 542.4 L637.85 561.11 L640.24 578.98 L642.74 596.05 L645.36 612.36 L648.11 627.95 L650.98 642.83 L653.99 657.05 L657.13 670.64 L660.43 683.62 L663.87 696.01 L667.48 707.86 L671.26 719.17 L675.21 729.98 L679.35 740.31 L683.69 750.17 L688.22 759.6 L692.97 768.6 L697.94 777.2 L703.14 785.42 L708.59 793.27 L714.29 800.77 L720.25 807.93 L726.5 814.78 L733.04 821.32 L739.88 827.56 L747.04 833.53 L754.54 839.23 L762.39 844.67 L770.61 849.88 L779.21 854.85 L788.21 859.59 L797.64 864.13 L807.5 868.46 L817.83 872.6 L828.64 876.56 L839.95 880.33 L851.79 883.94 L864.19 887.39 L877.17 890.69 L890.75 893.83 L904.97 896.84 L919.86 899.71 L935.44 902.45 L951.75 905.07 L968.82 907.58 L986.69 909.97 L1005.4 912.25M628.47 542.4 L630.57 562.44 L632.78 581.52 L635.09 599.69 L637.52 616.99 L640.08 633.46 L642.76 649.14 L645.58 664.07 L648.54 678.29 L651.65 691.83 L654.91 704.71 L658.34 716.99 L661.94 728.67 L665.72 739.8 L669.69 750.39 L673.86 760.47 L678.24 770.08 L682.85 779.22 L687.68 787.93 L692.75 796.22 L698.08 804.11 L703.68 811.62 L709.56 818.78 L715.74 825.59 L722.22 832.08 L729.04 838.25 L736.19 844.13 L743.71 849.73 L751.6 855.06 L759.89 860.14 L768.59 864.97 L777.73 869.57 L787.34 873.95 L797.42 878.13 L808.01 882.1 L819.14 885.88 L830.82 889.48 L843.09 892.91 L855.98 896.17 L869.52 899.28 L883.73 902.24 L898.66 905.06 L914.35 907.74 L930.82 910.29 L948.11 912.73 L966.28 915.04 L985.36 917.25 L1005.4 919.35" fill="none" stroke="#000" stroke-width="2" stroke-linejoin="round"/>
<path d="M705.6 542.4 L585.45 542.4 L585.45 961.95 L1005.4 961.95 L1005.4 842.52" fill="none" stroke="#000" stroke-width="1.7" stroke-linejoin="miter"/>
<path d="M585.5 971.05v-8.5M585.5 533.55v8.5M599.5 971.05v-5.2M599.5 533.55v5.2M613.5 971.05v-5.2M613.5 533.55v5.2M627.5 971.05v-5.2M627.5 533.55v5.2M641.5 971.05v-8.5M641.5 533.55v8.5M655.5 971.05v-5.2M655.5 533.55v5.2M669.5 971.05v-5.2M669.5 533.55v5.2M683.5 971.05v-5.2M683.5 533.55v5.2M697.5 971.05v-8.5M697.5 533.55v8.5M711.5 971.05v-5.2M711.5 533.55v5.2M725.5 971.05v-5.2M725.5 533.55v5.2M739.5 971.05v-5.2M739.5 533.55v5.2M753.5 971.05v-8.5M753.5 533.55v8.5M767.5 971.05v-5.2M767.5 533.55v5.2M781.5 971.05v-5.2M781.5 533.55v5.2M795.5 971.05v-5.2M795.5 533.55v5.2M809.5 971.05v-8.5M809.5 533.55v8.5M823.5 971.05v-5.2M823.5 533.55v5.2M837.5 971.05v-5.2M837.5 533.55v5.2M851.5 971.05v-5.2M851.5 533.55v5.2M865.5 971.05v-8.5M865.5 533.55v8.5M879.5 971.05v-5.2M879.5 533.55v5.2M893.5 971.05v-5.2M893.5 533.55v5.2M907.5 971.05v-5.2M907.5 533.55v5.2M921.5 971.05v-8.5M921.5 533.55v8.5M935.5 971.05v-5.2M935.5 533.55v5.2M949.5 971.05v-5.2M949.5 533.55v5.2M963.5 971.05v-5.2M963.5 533.55v5.2M977.5 971.05v-8.5M977.5 533.55v8.5M991.5 971.05v-5.2M991.5 533.55v5.2M1005.5 971.05v-5.2M1005.5 533.55v5.2M576.5 961.5h8.5M1014.4 961.5h-8.5M576.5 947.5h5.2M1014.4 947.5h-5.2M576.5 933.5h5.2M1014.4 933.5h-5.2M576.5 919.5h5.2M1014.4 919.5h-5.2M576.5 906.5h5.2M1014.4 906.5h-5.2M576.5 892.5h8.5M1014.4 892.5h-8.5M576.5 878.5h5.2M1014.4 878.5h-5.2M576.5 864.5h5.2M1014.4 864.5h-5.2M576.5 850.5h5.2M1014.4 850.5h-5.2M576.5 836.5h5.2M1014.4 836.5h-5.2M576.5 822.5h8.5M1014.4 822.5h-8.5M576.5 808.5h5.2M1014.4 808.5h-5.2M576.5 794.5h5.2M1014.4 794.5h-5.2M576.5 780.5h5.2M1014.4 780.5h-5.2M576.5 766.5h5.2M1014.4 766.5h-5.2M576.5 752.5h8.5M1014.4 752.5h-8.5M576.5 738.5h5.2M1014.4 738.5h-5.2M576.5 724.5h5.2M1014.4 724.5h-5.2M576.5 710.5h5.2M1014.4 710.5h-5.2M576.5 696.5h5.2M1014.4 696.5h-5.2M576.5 682.5h8.5M1014.4 682.5h-8.5M576.5 668.5h5.2M1014.4 668.5h-5.2M576.5 654.5h5.2M1014.4 654.5h-5.2M576.5 640.5h5.2M1014.4 640.5h-5.2M576.5 626.5h5.2M1014.4 626.5h-5.2M576.5 612.5h8.5M1014.4 612.5h-8.5M576.5 598.5h5.2M1014.4 598.5h-5.2M576.5 584.5h5.2M1014.4 584.5h-5.2M576.5 570.5h5.2M1014.4 570.5h-5.2M576.5 556.5h5.2M1014.4 556.5h-5.2M576.5 542.5h8.5M1014.4 542.5h-8.5" fill="none" stroke="#000" stroke-opacity="0.62" stroke-width="1"/>
<rect x="576.5" y="533.55" width="437.9" height="437.5" rx="1" fill="none" stroke="#000" stroke-opacity="0.62" stroke-width="1"/>
<text transform="translate(585.45 1001.9) scale(1 1.03)" text-anchor="middle">0.0</text>
<text transform="translate(641.44 1001.9) scale(1 1.03)" text-anchor="middle">0.2</text>
<text transform="translate(697.44 1001.9) scale(1 1.03)" text-anchor="middle">0.4</text>
<text transform="translate(753.43 1001.9) scale(1 1.03)" text-anchor="middle">0.6</text>
<text transform="translate(809.42 1001.9) scale(1 1.03)" text-anchor="middle">0.8</text>
<text transform="translate(865.42 1001.9) scale(1 1.03)" text-anchor="middle">1.0</text>
<text transform="translate(921.41 1001.9) scale(1 1.03)" text-anchor="middle">1.2</text>
<text transform="translate(977.4 1001.9) scale(1 1.03)" text-anchor="middle">1.4</text>
<text transform="translate(567.1 968.35) scale(1 1.03)" text-anchor="end">0.0</text>
<text transform="translate(567.1 898.43) scale(1 1.03)" text-anchor="end">0.5</text>
<text transform="translate(567.1 828.5) scale(1 1.03)" text-anchor="end">1.0</text>
<text transform="translate(567.1 758.57) scale(1 1.03)" text-anchor="end">1.5</text>
<text transform="translate(567.1 688.65) scale(1 1.03)" text-anchor="end">2.0</text>
<text transform="translate(567.1 618.73) scale(1 1.03)" text-anchor="end">2.5</text>
<text transform="translate(567.1 548.8) scale(1 1.03)" text-anchor="end">3.0</text>
</g>
</svg>
</body></html>
